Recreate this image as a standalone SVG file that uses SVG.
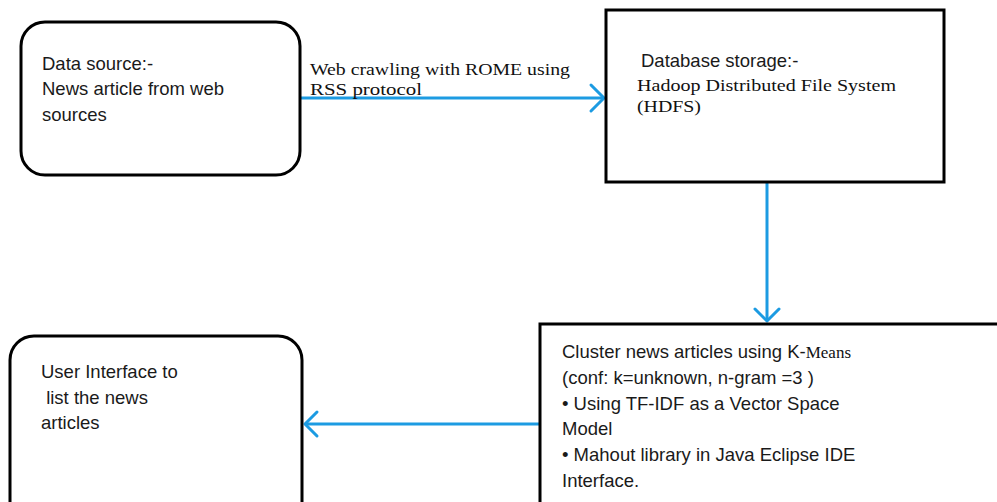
<svg xmlns="http://www.w3.org/2000/svg" width="997" height="502" viewBox="0 0 997 502">
  <style>
    .box { fill: #ffffff; stroke: #000000; stroke-width: 3; }
    .sans { font-family: "Liberation Sans", Arial, sans-serif; font-size: 18.5px; fill: #1a1a1a; }
    .serif { font-family: "Liberation Serif", "Times New Roman", serif; font-size: 17px; fill: #111111; }
    .link { stroke: #1c9be2; stroke-width: 3; fill: none; }
    .head { stroke: #1c9be2; stroke-width: 3; fill: none; stroke-linecap: round; stroke-linejoin: round; }
  </style>
  <rect width="997" height="502" fill="#ffffff"/>

  <!-- connectors -->
  <g id="connectors">
    <line class="link" x1="300" y1="98" x2="604" y2="98"/>
    <polyline class="head" points="591,85 604,98 591,111"/>
    <text class="serif" x="310" y="75" textLength="260" lengthAdjust="spacingAndGlyphs">Web crawling with ROME using</text>
    <text class="serif" x="310" y="95" textLength="112" lengthAdjust="spacingAndGlyphs">RSS protocol</text>

    <line class="link" x1="767" y1="182" x2="767" y2="321"/>
    <polyline class="head" points="755,309 767,321 779,309"/>

    <line class="link" x1="540" y1="424" x2="305" y2="424"/>
    <polyline class="head" points="317,412 305,424 317,436"/>
  </g>

  <!-- source node -->
  <g id="data-source">
    <rect class="box" x="21" y="22" width="279" height="153" rx="24" ry="24"/>
    <text class="sans" x="42" y="70">Data source:-</text>
    <text class="sans" x="42" y="95">News article from web</text>
    <text class="sans" x="42" y="121">sources</text>
  </g>

  <!-- storage node -->
  <g id="database-storage">
    <rect class="box" x="606" y="10" width="338" height="172"/>
    <text class="sans" x="641" y="67">Database storage:-</text>
    <text class="serif" x="637" y="91" textLength="259" lengthAdjust="spacingAndGlyphs">Hadoop Distributed File System</text>
    <text class="serif" x="637" y="112" textLength="64" lengthAdjust="spacingAndGlyphs">(HDFS)</text>
  </g>

  <!-- clustering node -->
  <g id="clustering">
    <rect class="box" x="540" y="324" width="470" height="200"/>
    <text class="sans" x="562" y="358">Cluster news articles using K-<tspan class="serif" font-size="19">Means</tspan></text>
    <text class="sans" x="562" y="384">(conf: k=unknown, n-gram =3 )</text>
    <text class="sans" x="562" y="410">• Using TF-IDF as a Vector Space</text>
    <text class="sans" x="562" y="435">Model</text>
    <text class="sans" x="562" y="461">• Mahout library in Java Eclipse IDE</text>
    <text class="sans" x="562" y="487">Interface.</text>
  </g>

  <!-- user interface node -->
  <g id="user-interface">
    <rect class="box" x="10" y="336" width="292" height="190" rx="24" ry="24"/>
    <text class="sans" x="41" y="378">User Interface to</text>
    <text class="sans" x="41" y="404" xml:space="preserve"> list the news</text>
    <text class="sans" x="41" y="429">articles</text>
  </g>
</svg>
